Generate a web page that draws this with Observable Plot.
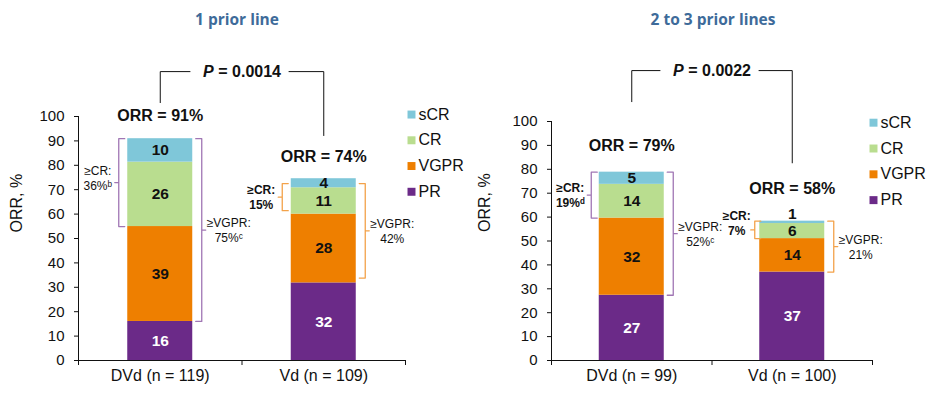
<!DOCTYPE html>
<html>
<head>
<meta charset="utf-8">
<script src="https://cdn.jsdelivr.net/npm/d3@7"></script>
<script src="https://cdn.jsdelivr.net/npm/@observablehq/plot@0.6"></script>
<style>
  body { margin: 0; background: #fff; }
  #wrap { display: flex; width: 932px; height: 396px; overflow: hidden; }
  #wrap svg { display: block; }
</style>
</head>
<body>
<div id="wrap"></div>
<script>
// ---------- data ----------
const levels = ["PR", "VGPR", "CR", "sCR"];
const legendOrder = ["sCR", "CR", "VGPR", "PR"];
const levelColors = ["#6B2A88", "#EE7F00", "#B9DD8F", "#7FC7D9"];
const panelTitles = ["1 prior line", "2 to 3 prior lines"];
const armLabels = [["DVd (n = 119)", "Vd (n = 109)"], ["DVd (n = 99)", "Vd (n = 100)"]];
// segment values in stacking order PR, VGPR, CR, sCR
const p1DVd = [16.0, 38.9, 26.4, 9.6];
const p1Vd = [31.8, 28.2, 10.8, 3.7];
const p2DVd = [27.3, 32.3, 14.1, 5.1];
const p2Vd = [37.0, 14.0, 6.3, 1.0];
const orrLabels = [["ORR = 91%", "ORR = 74%"], ["ORR = 79%", "ORR = 58%"]];
const pValues = ["= 0.0014", "= 0.0022"];
const geCRLabels = [["≥CR:\n36%ᵇ", "≥CR:\n15%"], ["≥CR:\n19%ᵈ", "≥CR:\n7%"]];
const geVGPRLabels = [["≥VGPR:\n75%ᶜ", "≥VGPR:\n42%"], ["≥VGPR:\n52%ᶜ", "≥VGPR:\n21%"]];
const yTicks = d3.range(0, 101, 10);

// ---------- layout / style ----------
const layouts = [
  { mL: 78, mR: 61, mT: 116, mB: 36, titleDx: -5, yLabDx: -62, yLabDy: -6,
    legStart: 100.8, legStep: 10.55, legDx: 6, legTextDx: 13,
    orrDy: [-23, -22], pTop: 118.4, pLeft: 105.7, pRight: 92.2,
    inset: [0, 2], crBold: [false, true], crDy: [-5, 0], gap: [9, 9], crTextOff: [21, 21] },
  { mL: 85, mR: 60, mT: 121, mB: 36, titleDx: 1, yLabDx: -67, yLabDy: -9,
    legStart: 99.5, legStep: 10.8, legDx: 1, legTextDx: 8,
    orrDy: [-26, -32], pTop: 121.3, pLeft: 108.3, pRight: 82.7,
    inset: [0, 0], crBold: [true, true], crDy: [0, -7], gap: [8, 5], crTextOff: [21, 18] }
];
const braceColors = ["#A076B4", "#F3A24A"];
const font = "'Liberation Sans', Arial, sans-serif";

function makePanel(pi, series) {
  const L = layouts[pi];
  const W = 466, H = 396;
  const u = (W - L.mL - L.mR) / 2;              // px per x unit
  const centers = [0.5, 1.5];
  const halfW = 32.5 / u;
  const segs = [];
  series.forEach((vals, ai) => {
    let acc = 0;
    vals.forEach((v, li) => {
      segs.push({ ai, level: levels[li], v, y1: acc, y2: acc + v,
        x1: centers[ai] - halfW, x2: centers[ai] + halfW, xc: centers[ai],
        fill: levelColors[li], txt: li === 0 ? "#fff" : "#111" });
      acc += v;
    });
  });
  const totals = series.map(v => d3.sum(v));

  // braces
  const braces = [];
  const braceTexts = [];
  series.forEach((vals, ai) => {
    const ins = L.inset[ai];
    const col = braceColors[ai];
    const gap = L.gap[ai] / u, h = 6 / u, t = 4 / u;
    const top = totals[ai] - ins;
    // >=CR on the left
    const crLo = vals[0] + vals[1] + (ins ? ins * 0.7 : 0);
    const xl = centers[ai] - halfW - gap;
    const midCR = (crLo + top) / 2;
    [[xl + h, top], [xl, top], [xl, midCR], [xl - t, midCR], [xl, midCR], [xl, crLo], [xl + h, crLo]]
      .forEach(([x, y]) => braces.push({ id: `cr${ai}`, x, y, col }));
    braceTexts.push({ x: xl - L.crTextOff[ai] / u, y: midCR, dy: L.crDy[ai], text: geCRLabels[pi][ai],
      w: L.crBold[ai] ? "bold" : "normal" });
    // >=VGPR on the right
    const vgLo = vals[0] + ins;
    const xr = centers[ai] + halfW + 9 / u;
    const midV = (vgLo + top) / 2;
    [[xr - h, top], [xr, top], [xr, midV], [xr + t, midV], [xr, midV], [xr, vgLo], [xr - h, vgLo]]
      .forEach(([x, y]) => braces.push({ id: `vg${ai}`, x, y, col }));
    braceTexts.push({ x: xr + 27 / u, y: midV, dy: 0, text: geVGPRLabels[pi][ai], w: "normal" });
  });

  // P-value bracket
  const pLine = [
    { id: "a", x: 0.5, y: L.pLeft }, { id: "a", x: 0.5, y: L.pTop }, { id: "a", x: 1 - 52 / u, y: L.pTop },
    { id: "b", x: 1 + 47 / u, y: L.pTop }, { id: "b", x: 1.5, y: L.pTop }, { id: "b", x: 1.5, y: L.pRight }
  ];

  const legend = legendOrder.map((d, i) => ({ d, y: L.legStart - i * L.legStep,
    fill: levelColors[levels.indexOf(d)] }));

  const braceTextMarks = braceTexts.map(d => Plot.text([d], { x: "x", y: "y", dy: d.dy, text: "text",
    lineHeight: 1.25, fontSize: 12, fontWeight: d.w, fill: "#111" }));

  return Plot.plot({
    width: W, height: H,
    marginLeft: L.mL, marginRight: L.mR, marginTop: L.mT, marginBottom: L.mB,
    style: { fontFamily: font, fontSize: "15px", color: "#111", background: "#fff" },
    x: { domain: [0, 2], axis: null },
    y: { domain: [0, 100], ticks: yTicks, tickSize: 4, tickPadding: 10, label: null },
    color: { type: "identity" },
    marks: [
      Plot.rect(segs, { x1: "x1", x2: "x2", y1: "y1", y2: "y2", fill: "fill" }),
      Plot.ruleX([0], { y1: 0, y2: 100, stroke: "#111" }),
      Plot.ruleY([0], { x1: 0, x2: 2, stroke: "#111" }),
      Plot.ruleX([0, 1, 2], { y1: 0, y2: -5 / ((H - L.mT - L.mB) / 100), stroke: "#111" }),
      Plot.text(armLabels[pi], { x: centers, frameAnchor: "bottom", dy: 20, text: d => d,
        fontSize: 16, fill: "#111" }),
      Plot.text(["ORR, %"], { frameAnchor: "left", rotate: -90, dx: L.yLabDx, dy: L.yLabDy,
        text: d => d, fontSize: 16, fill: "#111" }),
      Plot.text([panelTitles[pi]], { frameAnchor: "top", dy: 13 - L.mT, dx: L.titleDx, text: d => d,
        fontFamily: "'Open Sans', sans-serif", fontWeight: "bold", fontSize: 15.5, fill: "#3E6B9A" }),
      // segment labels
      Plot.text(segs.filter(d => d.v >= 3), { x: "xc", y: d => (d.y1 + d.y2) / 2,
        text: d => d3.format(".0f")(d.v), fill: "txt", fontWeight: "bold", fontSize: 15.5 }),
      Plot.text(segs.filter(d => d.v < 3), { x: "xc", y: "y2", dy: -7,
        text: d => d3.format(".0f")(d.v), fill: "txt", fontWeight: "bold", fontSize: 15.5 }),
      // ORR labels
      Plot.text([0], { x: i => centers[i], y: i => totals[i], dy: L.orrDy[0], text: i => orrLabels[pi][i],
        fontWeight: "bold", fontSize: 16, fill: "#111" }),
      Plot.text([1], { x: i => centers[i], y: i => totals[i], dy: L.orrDy[1], text: i => orrLabels[pi][i],
        fontWeight: "bold", fontSize: 16, fill: "#111" }),
      // braces
      Plot.line(braces, { x: "x", y: "y", z: "id", stroke: "col", strokeWidth: 1.3, curve: "linear" }),
      ...braceTextMarks,
      // P bracket
      Plot.line(pLine, { x: "x", y: "y", z: "id", stroke: "#111", strokeWidth: 1 }),
      Plot.text(["P"], { x: 1, y: L.pTop, dx: -39, textAnchor: "start", text: d => d,
        fontStyle: "italic", fontWeight: "bold", fontSize: 16, fill: "#111" }),
      Plot.text([pValues[pi]], { x: 1, y: L.pTop, dx: 39, textAnchor: "end", text: d => d,
        fontWeight: "bold", fontSize: 16, fill: "#111" }),
      // legend
      Plot.dot(legend, { y: "y", frameAnchor: "right", dx: L.legDx, symbol: "square", r: 4.5,
        fill: "fill", stroke: "none" }),
      Plot.text(legend, { y: "y", frameAnchor: "right", dx: L.legTextDx, textAnchor: "start",
        text: "d", fontSize: 16, fill: "#111" })
    ]
  });
}

const wrap = document.getElementById("wrap");
wrap.appendChild(makePanel(0, [p1DVd, p1Vd]));
wrap.appendChild(makePanel(1, [p2DVd, p2Vd]));
</script>
</body>
</html>
